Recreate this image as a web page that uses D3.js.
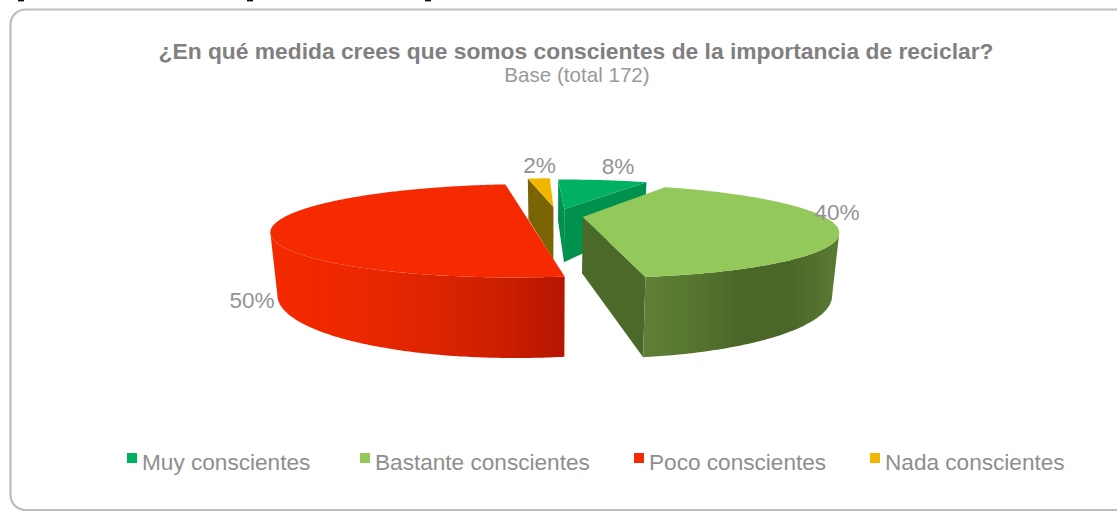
<!DOCTYPE html>
<html lang="es">
<head>
<meta charset="utf-8">
<script src="https://cdn.jsdelivr.net/npm/d3@7/dist/d3.min.js"></script>
<style>
  html, body { margin: 0; padding: 0; background: #fff; }
  svg { display: block; }
  text { font-family: "Liberation Sans", Arial, sans-serif; }
</style>
</head>
<body>
<svg id="chart" width="1117" height="511"></svg>
<script>
// Survey answers, in percent
const categories = ["Muy conscientes", "Bastante conscientes", "Poco conscientes", "Nada conscientes"];
const shares = [8, 40, 50, 2];
const titleText = "¿En qué medida crees que somos conscientes de la importancia de reciclar?";
const subtitleText = "Base (total 172)";

// Appearance of each slice: top face, radial walls, outer wall stops
const topColours = ["#00b161", "#93c95b", "#f52a00", "#f1b700"];
const wallColours = ["#00914f", "#4b6a2a", "#c41c00", "#7b6404"];
const rimStops = [
  ["#00914f", "#00914f"],
  ["#5f8035", "#56762f", "#4a6628", "#4a6628", "#5c7c33"],
  ["#f42900", "#ee2800", "#df2500", "#cf2000", "#b61500"],
  ["#7b6404", "#7b6404"]
];
// How far each slice is pulled out from the pie centre, and a sideways correction
const explode = [43, 30, 28, 55];
const sideShift = [2, 0, 1, 5];

// Ground-plane perspective
const W = 1117, H = 511;
const radius = 240, depth = 800, rotation = -0.02;
const vanishX = 553, horizonY = 76, planeDrop = 140, wallDrop = 56, wallShrink = 0.025;

function project(X, Z, t) {
  const s = 1 / (1 + Z / depth);
  return [vanishX + X * s * (1 - wallShrink * t), horizonY + s * (planeDrop + wallDrop * t)];
}

const svg = d3.select("#chart");
const defs = svg.append("defs");
const line = d3.line();

// Frame
svg.append("rect").attr("width", W).attr("height", H).attr("fill", "#fff");
svg.append("rect")
  .attr("x", 10.5).attr("y", 9.5).attr("width", 1120).attr("height", 500.5).attr("rx", 15)
  .attr("fill", "#fff").attr("stroke", "#bdbdbd").attr("stroke-width", 2.2);

// Descenders of the caption line cut off above the frame
svg.append("g").attr("fill", "#111").selectAll("rect")
  .data([18, 247, 425]).join("rect")
  .attr("x", d => d).attr("y", 0).attr("width", 6).attr("height", 1.4);

// Angles come from the pie layout; clockwise from twelve o'clock
const arcs = d3.pie().sort(null).value(d => d)
  .startAngle(rotation).endAngle(rotation + 2 * Math.PI)(shares)
  .map((a, i) => {
    const mid = (a.startAngle + a.endAngle) / 2;
    return {
      i, a0: a.startAngle, a1: a.endAngle, mid,
      cx: explode[i] * Math.sin(mid) + sideShift[i],
      cz: explode[i] * Math.cos(mid)
    };
  });

const ground = (slice, angle) => [
  slice.cx + radius * Math.sin(angle),
  slice.cz + radius * Math.cos(angle)
];
// A face looks at the camera when its outward normal points to it
const faces = (nAngle, px, pz) =>
  Math.sin(nAngle) * -px + Math.cos(nAngle) * (-depth - pz) > 0;

function rimSamples(slice) {
  const n = Math.max(4, Math.round((slice.a1 - slice.a0) * 90));
  return d3.range(n + 1).map(k => slice.a0 + (slice.a1 - slice.a0) * k / n);
}

function drawSlice(slice) {
  const g = svg.append("g").attr("class", "slice").datum(categories[slice.i]);
  const { i, cx, cz, a0, a1 } = slice;

  // Radial walls
  [[a0, a0 - Math.PI / 2], [a1, a1 + Math.PI / 2]].forEach(([edge, normal]) => {
    if (!faces(normal, cx, cz)) return;
    const [ex, ez] = ground(slice, edge);
    const pts = [project(cx, cz, 0), project(ex, ez, 0), project(ex, ez, 1), project(cx, cz, 1)];
    g.append("path").attr("d", line(pts) + "Z").attr("fill", wallColours[i]);
  });

  // Outer wall, front-facing samples only
  const visible = rimSamples(slice).filter(t => {
    const [x, z] = ground(slice, t);
    return faces(t, x, z);
  });
  if (visible.length > 1) {
    const topEdge = visible.map(t => { const [x, z] = ground(slice, t); return project(x, z, 0); });
    const botEdge = visible.map(t => { const [x, z] = ground(slice, t); return project(x, z, 1); }).reverse();
    const pts = topEdge.concat(botEdge);
    const [xMin, xMax] = d3.extent(pts, p => p[0]);
    const id = "rim" + i;
    const grad = defs.append("linearGradient").attr("id", id)
      .attr("gradientUnits", "userSpaceOnUse")
      .attr("x1", xMin).attr("x2", xMax).attr("y1", 0).attr("y2", 0);
    const stops = rimStops[i];
    const pos = d3.scaleLinear().domain([0, stops.length - 1]).range([0, 1]);
    stops.forEach((c, k) => grad.append("stop").attr("offset", pos(k)).attr("stop-color", c));
    g.append("path").attr("d", line(pts) + "Z").attr("fill", `url(#${id})`);
  }

  // Top face
  const outline = [project(cx, cz, 0)].concat(
    rimSamples(slice).map(t => { const [x, z] = ground(slice, t); return project(x, z, 0); })
  );
  g.append("path").attr("d", line(outline) + "Z").attr("fill", topColours[i]);
}

// Painter's order: back slices first
[3, 0, 1, 2].forEach(i => drawSlice(arcs[i]));

// Title block
svg.append("text").attr("x", 576).attr("y", 59).attr("text-anchor", "middle")
  .attr("font-size", 22.8).attr("font-weight", "bold").attr("fill", "#808080").text(titleText);
svg.append("text").attr("x", 577).attr("y", 82).attr("text-anchor", "middle")
  .attr("font-size", 20.6).attr("fill", "#999").text(subtitleText);

// Percentage labels
const labelAnchors = [[618, 174], [837, 220], [252, 308], [539.5, 173]];
svg.append("g").selectAll("text").data(shares).join("text")
  .attr("x", (d, i) => labelAnchors[i][0]).attr("y", (d, i) => labelAnchors[i][1])
  .attr("text-anchor", "middle").attr("font-size", 22.6).attr("fill", "#939393")
  .text(d => d + "%");

// Legend
const legendMarks = [127, 360, 634, 870];
const legend = svg.append("g").selectAll("g").data(categories).join("g")
  .attr("transform", (d, i) => `translate(${legendMarks[i]},0)`);
legend.append("rect").attr("y", 453).attr("width", 10).attr("height", 10)
  .attr("fill", (d, i) => topColours[i]);
legend.append("text").attr("x", 15).attr("y", 470).attr("font-size", 22.6)
  .attr("fill", "#8e8e8e").text(d => d);
</script>
</body>
</html>
